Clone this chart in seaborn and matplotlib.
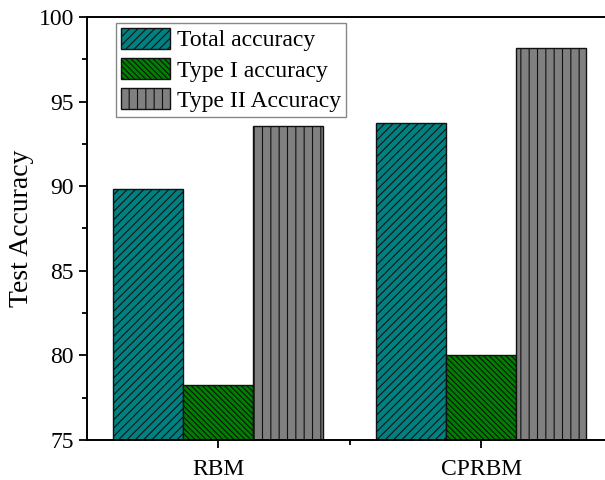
import pandas as pd
import seaborn as sns
import matplotlib.pyplot as plt
from matplotlib.ticker import MultipleLocator

# Données
models = ["RBM", "CPRBM"]
series = ["Total accuracy", "Type I accuracy", "Type II Accuracy"]
total_acc = [89.85, 93.73]
type1_acc = [78.25, 80.0]
type2_acc = [93.56, 98.15]

colors = ["#008080", "#008000", "#808080"]
hatches = ["////", "\\\\\\\\\\\\", "||"]

rows = []
for s, vals in zip(series, [total_acc, type1_acc, type2_acc]):
    for m, v in zip(models, vals):
        rows.append({"Model": m, "Accuracy": v, "Metric": s})
df = pd.DataFrame(rows)

sns.set_theme(style="ticks")
plt.rcParams["font.family"] = ["Liberation Serif", "DejaVu Serif"]
plt.rcParams["hatch.linewidth"] = 0.8
plt.rcParams["text.color"] = "black"
plt.rcParams["axes.labelcolor"] = "black"
plt.rcParams["xtick.color"] = "black"
plt.rcParams["ytick.color"] = "black"

fig = plt.figure(figsize=(6.05, 4.8), dpi=100)
ax = fig.add_axes([87 / 605, 40 / 480, (612.5 - 87) / 605, 423 / 480])

sns.barplot(data=df, x="Model", y="Accuracy", hue="Metric", hue_order=series,
            palette=colors, width=0.8, edgecolor="#111111", linewidth=1.0,
            saturation=1, ax=ax)

for cont, h in zip(ax.containers, hatches):
    for bar in cont:
        bar.set_hatch(h)

ax.set_ylim(75, 100)
ax.set_xlim(-0.5, 1.5)
ax.yaxis.set_major_locator(MultipleLocator(5))
ax.yaxis.set_minor_locator(MultipleLocator(2.5))
ax.set_xticks([0, 0.5, 1], minor=True)
ax.tick_params(which="major", direction="out", length=6, width=1.3, labelsize=17,
               color="black", labelcolor="black")
ax.tick_params(which="minor", direction="out", length=3.5, width=1.3, color="black")
ax.tick_params(axis="x", which="major", pad=8)
for sp in ax.spines.values():
    sp.set_linewidth(1.4)
    sp.set_color("black")

ax.set_xlabel("")
ax.set_ylabel("Test Accuracy", fontsize=20, labelpad=3, color="black")

ax.get_legend().remove()
leg = ax.legend(ax.containers, series, loc="upper left", bbox_to_anchor=(0.055, 0.986),
                borderaxespad=0, fontsize=17, frameon=True, fancybox=False,
                edgecolor="#888888", framealpha=1, handlelength=2.1, handleheight=1.0,
                labelspacing=0.28, handletextpad=0.3, borderpad=0.2, labelcolor="black")
leg.get_frame().set_linewidth(1.0)

plt.savefig("out.png", dpi=100)
